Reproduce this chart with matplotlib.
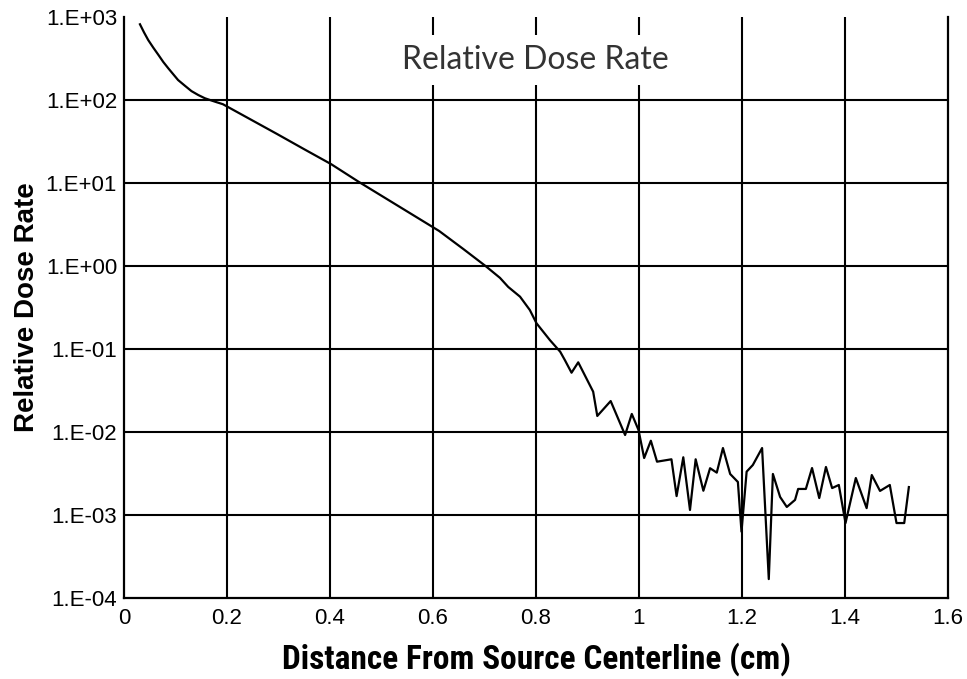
import matplotlib
matplotlib.use("Agg")
import matplotlib.pyplot as plt
from matplotlib import font_manager
import numpy as np

# ---- data ----
distance_cm = [0.031, 0.0388, 0.047, 0.0569, 0.067, 0.0763, 0.086, 0.0957, 0.105,
               0.118, 0.131, 0.144, 0.157, 0.169, 0.180, 0.192,
               0.297, 0.350, 0.402, 0.455, 0.612, 0.659, 0.702, 0.730, 0.746, 0.769, 0.788, 0.801,
               0.827, 0.847, 0.856, 0.869, 0.882, 0.911, 0.919, 0.945, 0.973,
               0.986, 0.999, 1.010, 1.023, 1.035, 1.063, 1.073, 1.086, 1.099,
               1.110, 1.125, 1.138, 1.151, 1.163, 1.177, 1.192, 1.199, 1.209,
               1.221, 1.239, 1.252, 1.260, 1.274, 1.287, 1.303, 1.309, 1.324,
               1.336, 1.350, 1.363, 1.375, 1.388, 1.401, 1.421, 1.442, 1.452,
               1.468, 1.487, 1.500, 1.515, 1.524]
relative_dose = [817, 654, 528, 427, 348, 287, 241, 204, 174,
                 149, 128, 115, 105, 99, 94, 89,
                 39, 25.5, 16.9, 10.4, 2.64, 1.60, 1.0, 0.72, 0.56, 0.427, 0.295, 0.204,
                 0.128, 0.0927, 0.0736, 0.0518, 0.0691, 0.0306, 0.0156, 0.0236, 0.0092,
                 0.0165, 0.0106, 0.00486, 0.00785, 0.00439, 0.00469, 0.00169, 0.00496, 0.00115,
                 0.00469, 0.00196, 0.00366, 0.00324, 0.00641, 0.00312, 0.00250, 0.00063, 0.00333,
                 0.00400, 0.00641, 0.000169, 0.00312, 0.00165, 0.00125, 0.00152, 0.00206, 0.00206,
                 0.00368, 0.00160, 0.00379, 0.00211, 0.00230, 0.00080, 0.00279, 0.00121, 0.00303,
                 0.00195, 0.00230, 0.00080, 0.00080, 0.00217]

x_ticks = [0, 0.2, 0.4, 0.6, 0.8, 1.0, 1.2, 1.4, 1.6]
x_tick_labels = ["0", "0.2", "0.4", "0.6", "0.8", "1", "1.2", "1.4", "1.6"]
y_ticks = [1e-4, 1e-3, 1e-2, 1e-1, 1e0, 1e1, 1e2, 1e3]
y_tick_labels = ["1.E-04", "1.E-03", "1.E-02", "1.E-01", "1.E+00", "1.E+01", "1.E+02", "1.E+03"]

title_text = "Relative Dose Rate"
x_label = "Distance From Source Centerline (cm)"
y_label = "Relative Dose Rate"

# ---- fonts ----
available = {f.name for f in font_manager.fontManager.ttflist}
def pick(*names):
    for n in names:
        if n in available:
            return n
    return "DejaVu Sans"

tick_font = pick("Liberation Sans", "DejaVu Sans")
xlabel_font = pick("Liberation Sans Narrow", "Roboto Condensed", "Liberation Sans")
ylabel_font = pick("Liberation Sans", "DejaVu Sans")
title_font = pick("Lato", "Open Sans", "DejaVu Sans")

# ---- figure ----
fig = plt.figure(figsize=(9.67, 6.79), dpi=100)
ax = fig.add_axes([124 / 967, 81 / 679, 824 / 967, 581 / 679])

ax.set_yscale("log")
ax.set_xlim(0, 1.6)
ax.set_ylim(1e-4, 1e3)

# grid lines (interior only, as in reference)
for xv in x_ticks[1:-1]:
    ax.axvline(xv, color="black", lw=1.5, zorder=1)
for yv in y_ticks[1:-1]:
    ax.axhline(yv, color="black", lw=1.5, zorder=1)

ax.plot(distance_cm, relative_dose, color="black", lw=1.6, zorder=3,
        solid_joinstyle="round")

ax.set_xticks(x_ticks)
ax.set_xticklabels(x_tick_labels, fontfamily=tick_font, fontsize=16)
ax.set_yticks(y_ticks)
ax.set_yticklabels(y_tick_labels, fontfamily=tick_font, fontsize=16)
ax.yaxis.set_minor_locator(matplotlib.ticker.NullLocator())
ax.tick_params(axis="both", length=0)
ax.tick_params(axis="x", pad=7)
ax.tick_params(axis="y", pad=5)

ax.spines["top"].set_visible(False)
for s in ["left", "right", "bottom"]:
    ax.spines[s].set_linewidth(1.6)
    ax.spines[s].set_color("black")

ax.set_xlabel(x_label, fontfamily=xlabel_font, fontweight="bold", fontsize=24, labelpad=10)
ax.set_ylabel(y_label, fontfamily=ylabel_font, fontweight="bold", fontsize=20, labelpad=4)

ax.text(0.499, 0.926, title_text, transform=ax.transAxes,
        fontfamily=title_font, fontweight="normal", fontsize=23, color="#333333",
        ha="center", va="center", zorder=5,
        bbox=dict(facecolor="white", edgecolor="none", pad=7))

fig.savefig("out.png", dpi=100)
